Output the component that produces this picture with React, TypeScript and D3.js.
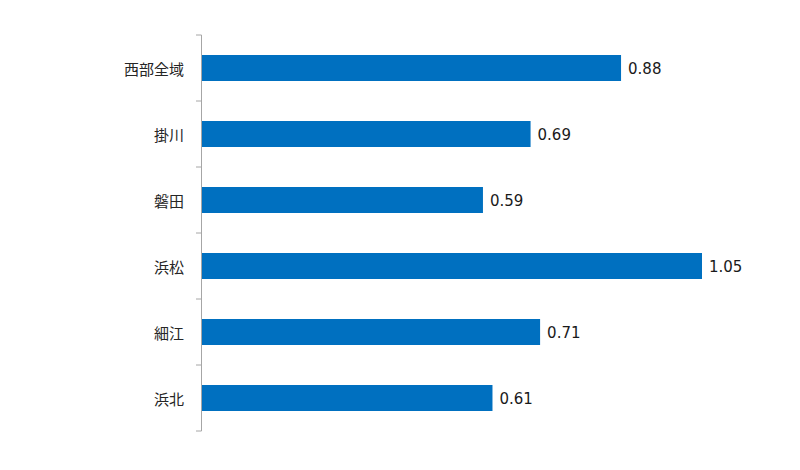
import React from "react";
import * as d3 from "d3";

const categories = ["西部全域", "掛川", "磐田", "浜松", "細江", "浜北"];
const values = [0.88, 0.69, 0.59, 1.05, 0.71, 0.61];

export default function App() {
  const width = 800;
  const height = 470;
  const x0 = 202;
  const top = 35;
  const bottom = 431;
  const x = d3.scaleLinear().domain([0, 1.05]).range([x0, 702]);
  const y = d3.scaleBand<string>().domain(categories).range([top, bottom]).paddingInner(0).paddingOuter(0);
  const barH = 26;
  const boundaries = d3.range(categories.length + 1).map((i) => top + i * y.step());
  return (
    <svg width={width} height={height} style={{ position: "absolute", left: 0, top: 0, background: "#fff" }}>
      <line x1={x0 - 0.5} x2={x0 - 0.5} y1={top} y2={bottom} stroke="#a6a6a6" strokeWidth={1} />
      {boundaries.map((b, i) => (
        <line key={i} x1={x0 - 6} x2={x0 - 0.5} y1={b} y2={b} stroke="#a6a6a6" strokeWidth={1} />
      ))}
      {categories.map((c, i) => {
        const cy = (y(c) as number) + y.bandwidth() / 2;
        return (
          <g key={c}>
            <rect x={x0} y={cy - barH / 2} width={x(values[i]) - x0} height={barH} fill="#0070C0" />
            <text x={x0 - 18} y={cy} textAnchor="end" dominantBaseline="central" fontFamily="'Noto Sans CJK JP', sans-serif" fontSize={15} fill="#262626">
              {c}
            </text>
            <text x={x(values[i]) + 7} y={cy + 1} dominantBaseline="central" fontFamily="'DejaVu Sans', Verdana, sans-serif" fontSize={15} fill="#1a1a1a">
              {values[i].toFixed(2)}
            </text>
          </g>
        );
      })}
    </svg>
  );
}
